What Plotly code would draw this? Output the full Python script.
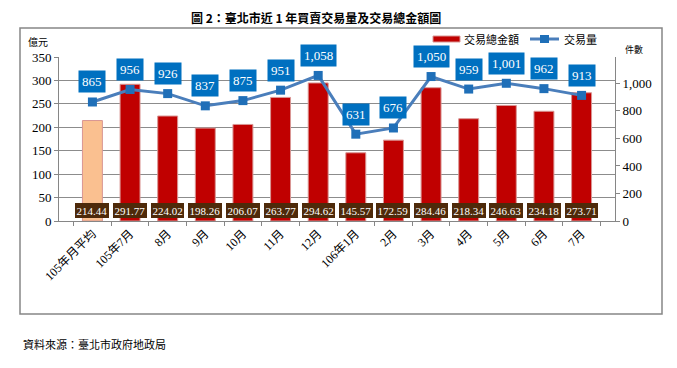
import plotly.graph_objects as go

categories = ["105年月平均", "105年7月", "8月", "9月", "10月", "11月", "12月",
              "106年1月", "2月", "3月", "4月", "5月", "6月", "7月"]
amount = [214.44, 291.77, 224.02, 198.26, 206.07, 263.77, 294.62,
          145.57, 172.59, 284.46, 218.34, 246.63, 234.18, 273.71]
volume = [865, 956, 926, 837, 875, 951, 1058, 631, 676, 1050, 959, 1001, 962, 913]
left_ticks = [0, 50, 100, 150, 200, 250, 300, 350]
right_ticks = [0, 200, 400, 600, 800, 1000]
series_names = ["交易總金額", "交易量"]

SERIF = "Liberation Serif, Noto Sans CJK TC, serif"
CJK = "Noto Sans CJK TC, Liberation Serif, serif"

W, H = 677, 368
L, R, T, B = 59, 62, 57, 147
pw, ph = W - L - R, H - T - B


def px(xp, yp):
    return (xp - L) / pw, 1 - (yp - T) / ph


bar_colors = ["#FAC090"] + ["#C00000"] * (len(amount) - 1)

fig = go.Figure()
fig.add_trace(go.Bar(
    x=categories, y=amount, name=series_names[0],
    marker=dict(color=bar_colors, line=dict(color="#D99694", width=1)),
    width=0.53, yaxis="y",
))
fig.add_trace(go.Scatter(
    x=categories, y=volume, name=series_names[1], mode="lines+markers",
    line=dict(color="#4A7EBB", width=3),
    marker=dict(symbol="square", size=9, color="#1F6FB8"),
    yaxis="y2",
))

annotations = []
for c, v in zip(categories, amount):
    annotations.append(dict(
        x=c, y=23, xref="x", yref="y", text=f"{v:.2f}", showarrow=False,
        font=dict(family=SERIF, size=11, color="white"),
        bgcolor="#4E2A0A", borderpad=1.5, borderwidth=0,
    ))
for c, v in zip(categories, volume):
    annotations.append(dict(
        x=c, y=v, xref="x", yref="y2", text=f"{v:,}", showarrow=False,
        yshift=20,
        font=dict(family=SERIF, size=13, color="white"),
        bgcolor="#0070C0", borderpad=3,
    ))

pixel_texts = [
    (316, 17, "<b>圖 2：臺北市近 1 年買賣交易量及交易總金額圖</b>", "center", CJK, 12),
    (38, 42, "億元", "center", CJK, 10),
    (634, 50, "件數", "center", CJK, 9),
    (21, 344, "資料來源：臺北市政府地政局", "left", CJK, 11),
    (462, 39, series_names[0], "left", CJK, 11),
    (562, 39, series_names[1], "left", CJK, 11),
]
for xp, yp, t, anc, fam, sz in pixel_texts:
    xx, yy = px(xp, yp)
    annotations.append(dict(x=xx, y=yy, xref="paper", yref="paper", text=t, showarrow=False,
                            xanchor=anc, yanchor="middle",
                            font=dict(family=fam, size=sz, color="black")))

x0, y0 = px(20, 28)
x1, y1 = px(662, 314)
lx0, ly0 = px(433, 36)
lx1, ly1 = px(460, 42)
llx0, lly = px(530, 39)
llx1, _ = px(559, 39)
mx0, my0 = px(540, 35)
mx1, my1 = px(549, 43)

shapes = [
    dict(type="rect", xref="paper", yref="paper", x0=x0, y0=y0, x1=x1, y1=y1,
         line=dict(color="#868686", width=1.5), layer="below"),
    dict(type="rect", xref="paper", yref="paper", x0=lx0, y0=ly0, x1=lx1, y1=ly1,
         fillcolor="#C00000", line=dict(color="#D99694", width=1)),
    dict(type="line", xref="paper", yref="paper", x0=llx0, y0=lly, x1=llx1, y1=lly,
         line=dict(color="#4A7EBB", width=3)),
    dict(type="rect", xref="paper", yref="paper", x0=mx0, y0=my0, x1=mx1, y1=my1,
         fillcolor="#1F6FB8", line=dict(width=0)),
]

fig.update_layout(
    width=W, height=H,
    margin=dict(l=L, r=R, t=T, b=B, autoexpand=False),
    paper_bgcolor="white", plot_bgcolor="white",
    showlegend=False,
    xaxis=dict(type="category", tickangle=-45, showline=True, linecolor="#868686",
               ticks="outside", ticklen=4, tickcolor="#868686", automargin=False,
               tickson="boundaries",
               tickfont=dict(family=SERIF, size=12, color="black"), showgrid=False),
    yaxis=dict(range=[0, 350], tickvals=left_ticks, showgrid=True, gridcolor="#8C8C8C",
               showline=True, linecolor="#868686", ticks="outside", ticklen=4, tickcolor="#868686",
               tickfont=dict(family=SERIF, size=13, color="black"), zeroline=False, automargin=False),
    yaxis2=dict(range=[0, 1192], tickvals=right_ticks, tickformat=",", overlaying="y", side="right",
                showgrid=False, showline=True, linecolor="#868686", ticks="outside", ticklen=4,
                tickcolor="#868686", tickfont=dict(family=SERIF, size=13, color="black"),
                zeroline=False, automargin=False),
    annotations=annotations,
    shapes=shapes,
)

fig.write_html("out.html", config={"displayModeBar": False},
               post_script="document.body.style.margin='0';document.body.style.overflow='hidden';")
